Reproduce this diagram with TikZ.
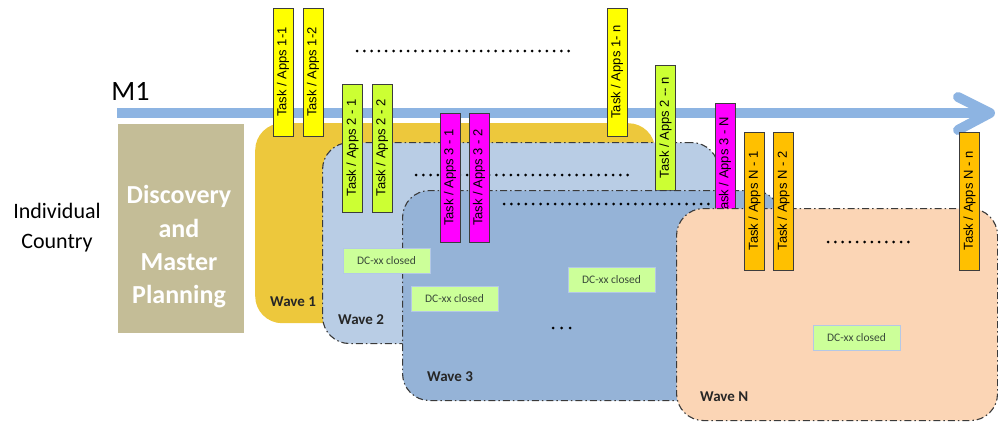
\documentclass[tikz,border=0pt]{standalone}
\usepackage{fontspec}
\setmainfont{Carlito}
\newfontfamily\arialf{Liberation Sans}
\definecolor{arrowblue}{HTML}{8DB4E2}
\definecolor{wavea}{HTML}{EDC83C}
\definecolor{waveb}{HTML}{B9CDE5}
\definecolor{wavec}{HTML}{95B3D7}
\definecolor{waven}{HTML}{FBD5B5}
\definecolor{discov}{HTML}{C4BD97}
\definecolor{tyellow}{HTML}{FFFF00}
\definecolor{tgreen}{HTML}{CCFF33}
\definecolor{tmagenta}{HTML}{FF00FF}
\definecolor{torange}{HTML}{FFC000}
\definecolor{taskline}{HTML}{3C3C3C}
\definecolor{waveline}{HTML}{3A3A3A}
\definecolor{dcfill}{HTML}{CCFF99}
\definecolor{dcline}{HTML}{B4C8E6}
\definecolor{dctext}{HTML}{3A4A3A}
\begin{document}
\begin{tikzpicture}[x=1pt,y=-1pt,
  task/.style={draw=taskline, line width=0.9pt, rotate=90, minimum width=128pt, minimum height=20pt, inner sep=0pt, font=\arialf\fontsize{13}{15}\selectfont},
  wave/.style={rounded corners=27pt, anchor=north west, inner sep=0pt},
  waveborder/.style={draw=waveline, line width=1.1pt, dash pattern=on 7pt off 3pt on 1.5pt off 3pt},
  wavelabel/.style={anchor=west, font=\bfseries\fontsize{15}{18}\selectfont, text=black!85, inner sep=0pt},
  dcbox/.style={fill=dcfill, draw=dcline, line width=1pt, minimum width=87pt, minimum height=25pt, inner sep=0pt, font=\fontsize{11.5}{14}\selectfont, text=dctext},
  dots/.style={line width=3pt, line cap=round, dash pattern=on 0pt off 7.3pt}
]
\useasboundingbox (0,0) rectangle (998,421);

% timeline arrow
\coordinate (m1start) at (117,113);
\coordinate (m1tip) at (990,113);
\coordinate (m1up) at (958,97);
\coordinate (m1down) at (958,130);
\draw[arrowblue, line width=10pt] (m1start) -- (m1tip);
\draw[arrowblue, line width=10pt, line cap=round, line join=round] (m1up) -- (m1tip) -- (m1down);

\node[font=\fontsize{28}{32}\selectfont, inner sep=0pt] (m1) at (130.5,91) {M1};
\node[font=\fontsize{22}{30}\selectfont, align=center, inner sep=0pt] (country) at (57,228) {Individual\\Country};

\node[fill=discov, draw=white, line width=0.8pt, anchor=north west, minimum width=127pt, minimum height=210pt, inner sep=0pt] (disc) at (117,123) {};
\node[text=white, font=\bfseries\fontsize{26}{33.3}\selectfont, align=center, inner sep=0pt] (disctext) at (179,247) {Discovery\\and\\Master\\Planning};

% Wave 1
\node[wave, fill=wavea, minimum width=400pt, minimum height=200pt] (w1) at (255,123) {};
\node[wavelabel] (w1l) at (270,302) {Wave 1};
\node[task, fill=tyellow] (t11) at (283,72) {Task / Apps 1-1};
\node[task, fill=tyellow] (t12) at (313,72) {Task / Apps 1-2};
\node[task, fill=tyellow] (t1n) at (617,72) {Task / Apps 1- n};
\coordinate (d1a) at (357,51);
\coordinate (d1b) at (570,51);
\draw[dots] (d1a) -- (d1b);

% Wave 2
\node[wave, waveborder, fill=waveb, minimum width=396pt, minimum height=201pt] (w2) at (322,142) {};
\node[wavelabel] (w2l) at (338,320) {Wave 2};
\coordinate (d2a) at (416,175);
\coordinate (d2b) at (629,175);
\draw[dots] (d2a) -- (d2b);
\node[task, fill=tgreen] (t21) at (352.5,148) {Task / Apps 2 - 1};
\node[task, fill=tgreen] (t22) at (382,148) {Task / Apps 2 - 2};
\node[task, fill=tgreen, minimum width=125pt] (t2n) at (665.5,127.5) {Task / Apps 2 -- n};

% Wave 3
\node[wave, waveborder, fill=wavec, minimum width=378pt, minimum height=210pt] (w3) at (402,190) {};
\node[wavelabel] (w3l) at (427,377) {Wave 3};
\node[dcbox] (dc1) at (386.5,260.5) {DC-xx closed};
\node[dcbox] (dc2) at (454.5,299) {DC-xx closed};
\node[dcbox] (dc3) at (611.5,280) {DC-xx closed};
\coordinate (d3a) at (504,204);
\coordinate (d3b) at (715,204);
\draw[dots] (d3a) -- (d3b);
\coordinate (d4a) at (553,328);
\coordinate (d4b) at (571,328);
\draw[line width=3pt, line cap=round, dash pattern=on 0pt off 8.5pt] (d4a) -- (d4b);
\node[task, fill=tmagenta, minimum width=129pt] (t31) at (450,177.5) {Task / Apps 3 - 1};
\node[task, fill=tmagenta, minimum width=129pt] (t32) at (479,177.5) {Task / Apps 3 - 2};
\node[task, fill=tmagenta] (t3n) at (725,167) {Task / Apps 3 - N};

% Wave N
\node[wave, waveborder, fill=waven, minimum width=321pt, minimum height=212pt] (wn) at (676,208) {};
\node[wavelabel] (wnl) at (700,397) {Wave N};
\node[dcbox] (dc4) at (856.5,338) {DC-xx closed};
\coordinate (d5a) at (828,242);
\coordinate (d5b) at (911,242);
\draw[dots] (d5a) -- (d5b);
\node[task, fill=torange, minimum width=138pt] (tn1) at (754.5,201) {Task / Apps N - 1};
\node[task, fill=torange, minimum width=138pt] (tn2) at (783.5,201) {Task / Apps N - 2};
\node[task, fill=torange, minimum width=138pt] (tnn) at (969.5,201) {Task / Apps N - n};
\end{tikzpicture}
\end{document}
